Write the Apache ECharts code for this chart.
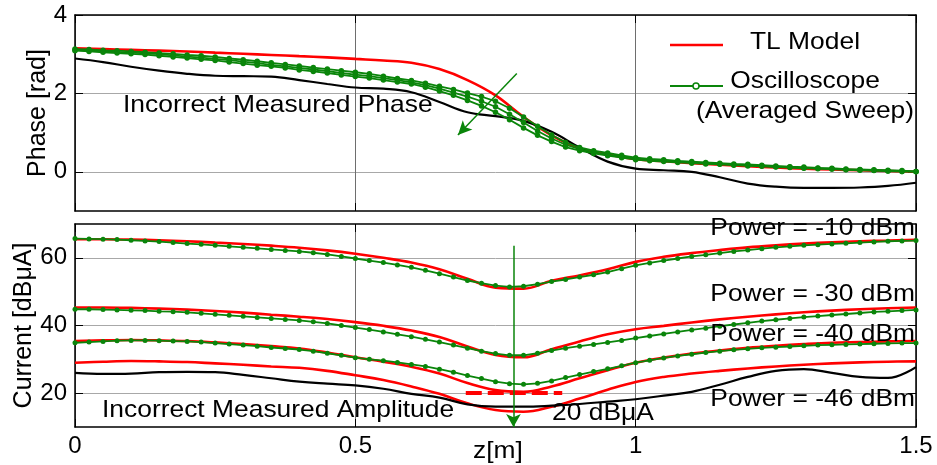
<!DOCTYPE html>
<html>
<head>
<meta charset="utf-8">
<script src="https://cdn.jsdelivr.net/npm/echarts@6/dist/echarts.min.js"></script>
<style>
  html, body { margin: 0; padding: 0; background: #ffffff; }
  #chart { width: 937px; height: 465px; }
</style>
</head>
<body>
<div id="chart"></div>
<script>
// Position along the line, z [m]
const zCoarse = [0, 0.05, 0.1, 0.15, 0.2, 0.25, 0.3, 0.35, 0.4, 0.45, 0.5, 0.55, 0.6, 0.65, 0.7, 0.75,
  0.8, 0.85, 0.9, 0.95, 1.0, 1.05, 1.1, 1.15, 1.2, 1.25, 1.3, 1.35, 1.4, 1.45, 1.5];
const zFine = [0, 0.025, 0.05, 0.075, 0.1, 0.125, 0.15, 0.175, 0.2, 0.225, 0.25, 0.275, 0.3, 0.325,
  0.35, 0.375, 0.4, 0.425, 0.45, 0.475, 0.5, 0.525, 0.55, 0.575, 0.6, 0.625, 0.65, 0.675, 0.7, 0.725,
  0.75, 0.775, 0.8, 0.825, 0.85, 0.875, 0.9, 0.925, 0.95, 0.975, 1.0, 1.025, 1.05, 1.075, 1.1, 1.125,
  1.15, 1.175, 1.2, 1.225, 1.25, 1.275, 1.3, 1.325, 1.35, 1.375, 1.4, 1.425, 1.45, 1.475, 1.5];

// Phase [rad]
const phaseModel = [3.15, 3.13, 3.11, 3.09, 3.07, 3.04, 3.01, 2.98, 2.95, 2.92, 2.88, 2.84, 2.78, 2.62,
  2.34, 1.95, 1.40, 0.93, 0.60, 0.44, 0.32, 0.27, 0.22, 0.18, 0.14, 0.11, 0.08, 0.06, 0.04, 0.02, 0.00];
const phaseIncorrect = [2.89, 2.80, 2.68, 2.58, 2.50, 2.45, 2.44, 2.43, 2.34, 2.24, 2.15, 2.12, 2.03,
  1.78, 1.52, 1.42, 1.30, 1.02, 0.62, 0.26, 0.08, 0.04, 0.00, -0.14, -0.30, -0.38, -0.41, -0.41, -0.40,
  -0.36, -0.28];
const phaseScopeA = [3.13, 3.12, 3.10, 3.09, 3.07, 3.05, 3.03, 3.01, 2.98, 2.96, 2.93, 2.89, 2.86, 2.82,
  2.78, 2.74, 2.70, 2.66, 2.62, 2.58, 2.54, 2.50, 2.44, 2.38, 2.33, 2.26, 2.18, 2.10, 2.01, 1.92, 1.80,
  1.62, 1.40, 1.16, 0.94, 0.75, 0.62, 0.54, 0.48, 0.42, 0.36, 0.33, 0.31, 0.28, 0.26, 0.24, 0.22, 0.20,
  0.19, 0.17, 0.15, 0.13, 0.12, 0.10, 0.09, 0.07, 0.06, 0.05, 0.04, 0.03, 0.01];
const phaseScopeB = [3.11, 3.10, 3.08, 3.06, 3.04, 3.02, 3.00, 2.97, 2.94, 2.91, 2.88, 2.85, 2.81, 2.77,
  2.73, 2.69, 2.65, 2.61, 2.57, 2.52, 2.48, 2.44, 2.39, 2.34, 2.28, 2.21, 2.12, 2.02, 1.92, 1.80, 1.66,
  1.47, 1.26, 1.04, 0.85, 0.69, 0.58, 0.50, 0.44, 0.39, 0.34, 0.31, 0.28, 0.26, 0.24, 0.22, 0.20, 0.18,
  0.17, 0.15, 0.13, 0.12, 0.10, 0.09, 0.07, 0.06, 0.05, 0.04, 0.02, 0.01, 0.01];
const phaseScopeC = [3.09, 3.07, 3.05, 3.03, 3.01, 2.99, 2.96, 2.93, 2.90, 2.87, 2.84, 2.80, 2.76, 2.72,
  2.69, 2.65, 2.60, 2.56, 2.52, 2.47, 2.43, 2.39, 2.34, 2.29, 2.24, 2.16, 2.06, 1.95, 1.82, 1.68, 1.52,
  1.33, 1.12, 0.93, 0.77, 0.63, 0.54, 0.47, 0.41, 0.36, 0.31, 0.28, 0.26, 0.24, 0.22, 0.20, 0.19, 0.17,
  0.15, 0.14, 0.12, 0.11, 0.09, 0.08, 0.07, 0.05, 0.04, 0.03, 0.02, 0.01, 0.00];

// Current [dBuA]
const ampModel10 = [65.5, 65.5, 65.4, 65.2, 64.9, 64.5, 64.1, 63.6, 63.0, 62.2, 61.2, 60.0, 58.6, 56.6,
  53.8, 51.2, 50.9, 53.2, 54.8, 56.6, 58.8, 60.3, 61.4, 62.3, 63.1, 63.7, 64.2, 64.6, 64.9, 65.1, 65.3];
const ampModel30 = [45.3, 45.3, 45.2, 45.0, 44.7, 44.3, 43.8, 43.2, 42.6, 41.9, 41.0, 39.9, 38.5, 36.6,
  33.8, 31.3, 30.6, 33.0, 35.3, 37.4, 38.9, 39.9, 40.9, 41.8, 42.6, 43.3, 43.9, 44.4, 44.8, 45.1, 45.3];
const ampModel40 = [35.4, 35.6, 35.7, 35.6, 35.4, 35.0, 34.5, 33.9, 33.2, 32.0, 30.6, 29.3, 27.8, 25.8,
  23.0, 20.9, 20.4, 22.0, 24.4, 26.8, 29.0, 30.5, 31.7, 32.6, 33.4, 34.0, 34.5, 34.9, 35.1, 35.3, 35.4];
const ampModel46 = [29.0, 29.3, 29.5, 29.4, 29.2, 28.8, 28.4, 27.9, 27.5, 26.6, 25.3, 23.9, 22.0, 19.8,
  17.0, 15.0, 14.5, 16.0, 18.4, 21.0, 23.3, 24.8, 25.8, 26.6, 27.3, 27.9, 28.4, 28.8, 29.1, 29.3, 29.4];
const ampIncorrect = [26.0, 25.7, 25.8, 26.2, 26.3, 26.2, 25.4, 24.4, 23.4, 22.8, 22.3, 21.3, 19.8, 18.7,
  16.7, 16.0, 16.0, 16.3, 16.8, 17.5, 18.2, 19.3, 20.4, 22.5, 24.8, 26.6, 27.1, 26.0, 24.8, 24.5, 27.7];
const ampScope10 = [65.7, 65.6, 65.5, 65.4, 65.2, 65.0, 64.8, 64.5, 64.2, 64.0, 63.7, 63.4, 63.1, 62.8,
  62.5, 62.2, 61.9, 61.5, 61.0, 60.4, 59.8, 59.2, 58.6, 57.9, 57.2, 56.3, 55.3, 54.3, 53.3, 52.5, 51.8,
  51.4, 51.6, 52.2, 53.0, 53.6, 54.3, 55.0, 55.8, 56.8, 57.8, 58.5, 59.2, 59.8, 60.4, 60.9, 61.4, 61.9,
  62.3, 62.7, 63.1, 63.4, 63.7, 63.9, 64.1, 64.3, 64.5, 64.7, 64.9, 65.0, 65.1];
const ampScope30 = [44.8, 44.8, 44.7, 44.6, 44.5, 44.4, 44.2, 44.1, 43.9, 43.6, 43.3, 43.0, 42.7, 42.4,
  42.1, 41.8, 41.5, 41.1, 40.6, 40.0, 39.4, 38.8, 38.1, 37.4, 36.7, 35.9, 35.1, 34.2, 33.3, 32.4, 31.7,
  31.2, 31.2, 31.8, 32.6, 33.3, 33.9, 34.4, 35.0, 35.6, 36.3, 36.9, 37.5, 38.1, 38.7, 39.2, 39.8, 40.3,
  40.8, 41.3, 41.7, 42.1, 42.5, 42.8, 43.1, 43.4, 43.7, 44.0, 44.2, 44.4, 44.6];
const ampScope40 = [34.9, 35.1, 35.3, 35.5, 35.6, 35.6, 35.5, 35.4, 35.3, 35.1, 34.8, 34.5, 34.2, 33.9,
  33.5, 33.2, 32.9, 32.4, 31.8, 31.2, 30.5, 30.0, 29.6, 29.1, 28.5, 27.9, 27.1, 26.2, 25.2, 24.3, 23.4,
  22.8, 22.6, 22.9, 23.6, 24.6, 25.5, 26.4, 27.2, 28.1, 29.0, 29.7, 30.4, 31.0, 31.5, 32.0, 32.4, 32.8,
  33.1, 33.4, 33.6, 33.8, 34.0, 34.2, 34.3, 34.4, 34.5, 34.6, 34.7, 34.8, 34.8];

// Axis ticks
const zTicks = [0, 0.5, 1, 1.5];
const phaseTicks = [0, 2, 4];
const currentTicks = [20, 40, 60];

// Annotations
const powerLabels = ['Power = -10 dBm', 'Power = -30 dBm', 'Power = -40 dBm', 'Power = -46 dBm'];
const refLevel = 20;            // dBuA reference level
const refSpan = [0.697, 0.869]; // z range of the reference dash
const phaseArrow = [[0.788, 2.51], [0.683, 0.94]];
const ampArrowZ = 0.782;
const ampArrowTop = 63.6;

const FONT = '"Liberation Sans", Arial, sans-serif';
const RED = '#ff0000';
const GREEN = '#0a850a';
const STRETCH = 1.1;

const pair = (zs, vs) => zs.map((z, i) => [z, vs[i]]);

function modelLine(name, data, xi, yi) {
  return {
    name, type: 'line', xAxisIndex: xi, yAxisIndex: yi, data,
    showSymbol: false, smooth: 0.4, lineStyle: { color: RED, width: 2.6 }, itemStyle: { color: RED },
    z: 3
  };
}
function measuredLine(name, data, xi, yi) {
  return {
    name, type: 'line', xAxisIndex: xi, yAxisIndex: yi, data,
    showSymbol: false, smooth: 0.4, lineStyle: { color: '#000000', width: 2.2 }, itemStyle: { color: '#000' },
    z: 4
  };
}
function scopeLine(name, data, xi, yi, size) {
  return {
    name, type: 'line', xAxisIndex: xi, yAxisIndex: yi, data,
    symbol: 'circle', symbolSize: size, showSymbol: true, smooth: false,
    lineStyle: { color: GREEN, width: 1.8 }, itemStyle: { color: GREEN, borderWidth: 0 },
    z: 5
  };
}

const frameLine = { show: true, onZero: false, lineStyle: { color: '#000', width: 1.5 } };
const innerTick = { show: true, inside: true, length: 8, lineStyle: { color: '#000', width: 1 } };

function xAxisFor(grid, pos, labels) {
  return {
    gridIndex: grid, type: 'value', position: pos, min: 0, max: 1.5, interval: 0.5,
    axisLine: frameLine, axisTick: innerTick,
    axisLabel: labels ? {
      show: true, margin: 7, fontSize: 24, color: '#000', fontFamily: FONT,
      customValues: zTicks, formatter: v => String(v)
    } : { show: false },
    splitLine: { show: pos === 'bottom', lineStyle: { color: '#6e6e6e', width: 1 } }
  };
}
function yAxisFor(grid, pos, min, max, ticks, extra) {
  return Object.assign({
    gridIndex: grid, type: 'value', position: pos, min, max,
    axisLine: frameLine,
    axisTick: Object.assign({ customValues: ticks }, innerTick),
    axisLabel: pos === 'left' ? {
      show: true, fontSize: 24, color: '#000', fontFamily: FONT, customValues: ticks
    } : { show: false },
    splitLine: { show: pos === 'left', lineStyle: { color: '#a8a8a8', width: 1 } }
  }, extra || {});
}

function stretchedText(text, x, y, align) {
  return {
    type: 'text', x, y, scaleX: STRETCH, z: 100,
    style: {
      text, fontSize: 24, fontFamily: FONT, fill: '#000',
      align: align, verticalAlign: 'middle', textAlign: align, textVerticalAlign: 'middle'
    }
  };
}

const chart = echarts.init(document.getElementById('chart'), null, { renderer: 'canvas' });

const phaseSeries = [
  modelLine('TL Model', pair(zCoarse, phaseModel), 0, 0),
  measuredLine('Incorrect phase', pair(zCoarse, phaseIncorrect), 0, 0),
  scopeLine('Oscilloscope A', pair(zFine, phaseScopeA), 0, 0, 5.5),
  scopeLine('Oscilloscope B', pair(zFine, phaseScopeB), 0, 0, 5.5),
  Object.assign(scopeLine('Oscilloscope C', pair(zFine, phaseScopeC), 0, 0, 5.5), {
    markLine: {
      silent: true, animation: false, symbol: ['none', 'arrow'], symbolSize: [10, 14],
      label: { show: false },
      lineStyle: { color: GREEN, width: 1.5, type: 'solid' },
      data: [[{ coord: phaseArrow[0] }, { coord: phaseArrow[1] }]]
    }
  })
];

const ampSeries = [
  modelLine('TL Model -10', pair(zCoarse, ampModel10), 2, 2),
  modelLine('TL Model -30', pair(zCoarse, ampModel30), 2, 2),
  modelLine('TL Model -40', pair(zCoarse, ampModel40), 2, 2),
  modelLine('TL Model -46', pair(zCoarse, ampModel46), 2, 2),
  measuredLine('Incorrect amplitude', pair(zCoarse, ampIncorrect), 2, 2),
  scopeLine('Scope -10', pair(zFine, ampScope10), 2, 2, 5),
  scopeLine('Scope -30', pair(zFine, ampScope30), 2, 2, 5),
  Object.assign(scopeLine('Scope -40', pair(zFine, ampScope40), 2, 2, 5), {
    markLine: {
      silent: true, animation: false, label: { show: false },
      data: [
        [
          { coord: [refSpan[0], refLevel], symbol: 'none',
            lineStyle: { color: RED, width: 4, type: [16, 6] } },
          { coord: [refSpan[1], refLevel], symbol: 'none' }
        ],
        [
          { coord: [ampArrowZ, ampArrowTop], symbol: 'none',
            lineStyle: { color: GREEN, width: 1.5, type: 'solid' } },
          { coord: [ampArrowZ, 10], symbol: 'arrow', symbolSize: [11, 13] }
        ]
      ]
    }
  })
];

chart.setOption({
  animation: false,
  backgroundColor: '#ffffff',
  textStyle: { fontFamily: FONT },
  grid: [
    { left: 75, top: 15, width: 841, height: 196 },
    { left: 75, top: 224, width: 841, height: 203 }
  ],
  xAxis: [
    xAxisFor(0, 'bottom', false),
    xAxisFor(0, 'top', false),
    xAxisFor(1, 'bottom', true),
    xAxisFor(1, 'top', false)
  ],
  yAxis: [
    yAxisFor(0, 'left', -1, 4, phaseTicks, {
      name: 'Phase [rad]', nameLocation: 'middle', nameGap: 24, nameMoveOverlap: false,
      nameTextStyle: { fontSize: 25, color: '#000', fontFamily: FONT }
    }),
    yAxisFor(0, 'right', -1, 4, phaseTicks),
    yAxisFor(1, 'left', 10, 70, currentTicks, {
      name: 'Current [dBμA]', nameLocation: 'middle', nameGap: 38, nameMoveOverlap: false,
      nameTextStyle: { fontSize: 25, color: '#000', fontFamily: FONT }
    }),
    yAxisFor(1, 'right', 10, 70, currentTicks)
  ],
  series: phaseSeries.concat(ampSeries),
  graphic: [
    // legend
    { type: 'line', z: 100, shape: { x1: 670, y1: 45, x2: 723, y2: 45 }, style: { stroke: RED, lineWidth: 2.6 } },
    stretchedText('TL Model', 805, 42, 'center'),
    { type: 'line', z: 100, shape: { x1: 670, y1: 86, x2: 723, y2: 86 }, style: { stroke: GREEN, lineWidth: 2 } },
    { type: 'circle', z: 101, shape: { cx: 696, cy: 86, r: 3 }, style: { fill: '#ffffff', stroke: GREEN, lineWidth: 1.5 } },
    stretchedText('Oscilloscope', 805, 81, 'center'),
    stretchedText('(Averaged Sweep)', 805, 111, 'center'),
    // annotations
    stretchedText('Incorrect Measured Phase', 123, 105, 'left'),
    stretchedText('Incorrect Measured Amplitude', 102, 410, 'left'),
    stretchedText(refLevel + ' dBμA', 552, 413, 'left'),
    stretchedText(powerLabels[0], 915, 228, 'right'),
    stretchedText(powerLabels[1], 915, 294, 'right'),
    stretchedText(powerLabels[2], 915, 334, 'right'),
    stretchedText(powerLabels[3], 915, 399, 'right'),
    stretchedText('z[m]', 498, 451, 'center')
  ]
});
</script>
</body>
</html>
